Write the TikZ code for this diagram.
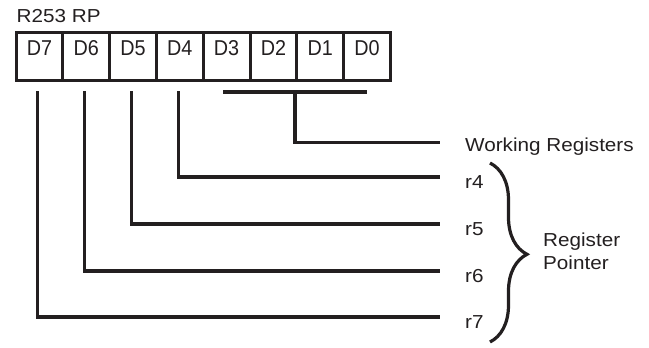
\documentclass[tikz,border=0pt]{standalone}
\usepackage{fontspec}
\setmainfont{Liberation Sans}[FakeStretch=1.1]
\newfontfamily\dfont{Liberation Sans}[FakeStretch=0.92]
\usetikzlibrary{decorations.pathreplacing,calc}
\definecolor{ink}{HTML}{231F20}
\begin{document}
\begin{tikzpicture}[x=1pt,y=-1pt,
  cell/.style={draw=ink,line width=3pt,minimum width=46.8pt,minimum height=48pt,inner sep=0pt,outer sep=0pt},
  dlab/.style={text=ink,inner sep=0pt,anchor=base,font=\dfont\fontsize{21.5}{24}\selectfont},
  lab/.style={text=ink,inner sep=0pt,anchor=base west,font=\fontsize{18.8}{23}\selectfont},
  wire/.style={draw=ink,line width=3.2pt}]
\useasboundingbox (0,0) rectangle (649,348);
% register cells
\foreach \i/\n in {0/7,1/6,2/5,3/4,4/3,5/2,6/1,7/0}{
  \node[cell] (d\n) at ({16+46.8*\i+23.4},56) {};
  \node[dlab] (t\n) at ({16+46.8*\i+23.4},55) {D\n};
}
\node[lab] (title) at (16.5,22.7) {R253 RP};
% labels
\node[lab] (wr) at (465,151) {Working Registers};
\node[lab] (r4) at (465,188) {r4};
\node[lab] (r5) at (465,235) {r5};
\node[lab] (r6) at (465,282) {r6};
\node[lab] (r7) at (465,328) {r7};
\node[text=ink,inner sep=0pt,anchor=west,align=left,font=\fontsize{18.8}{23}\selectfont] (rp) at (543,251) {Register\\Pointer};
% wire end points
\coordinate (ew) at (440,142.5);
\coordinate (e4) at (440,177);
\coordinate (e5) at (440,224);
\coordinate (e6) at (440,271);
\coordinate (e7) at (440,317);
\coordinate (bl) at (223,92);
\coordinate (br) at (367,92);
% connectors
\draw[wire] ([xshift=-1.7pt]d7.south |- 0,91) |- (e7);
\draw[wire] ([xshift=-1.9pt]d6.south |- 0,91) |- (e6);
\draw[wire] ([xshift=-1.3pt]d5.south |- 0,91) |- (e5);
\draw[wire] ([xshift=-1.5pt]d4.south |- 0,91) |- (e4);
\draw[wire] (bl) -- (br);
\draw[wire] ($(bl)!0.5!(br)$) |- (ew);
% brace
\draw[draw=ink,line width=3.2pt,decorate,decoration={brace,amplitude=37pt,aspect=0.51}] (490,163) -- (490,342);
\end{tikzpicture}
\end{document}
